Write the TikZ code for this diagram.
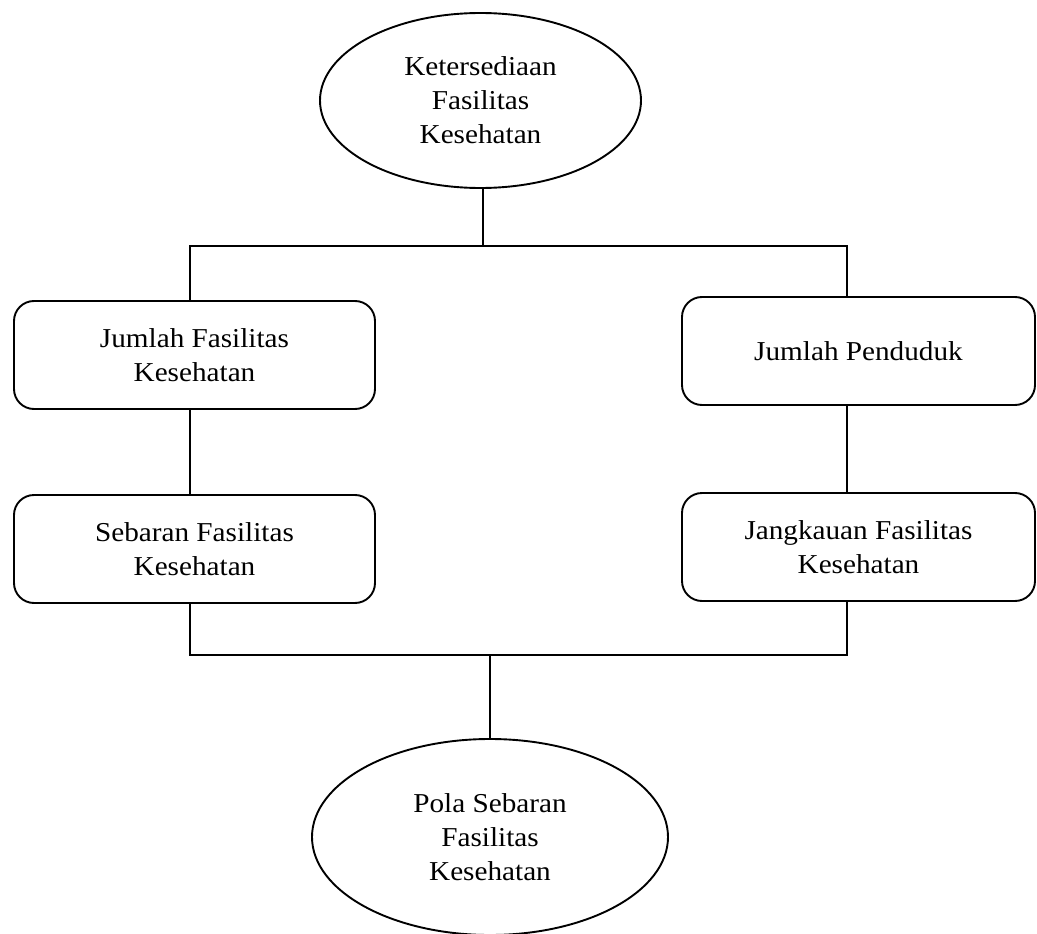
\documentclass[tikz,border=0pt]{standalone}
\usepackage{fontspec}
\setmainfont{Liberation Serif}[FakeStretch=1.07]
\usetikzlibrary{shapes.geometric}
\begin{document}
\begin{tikzpicture}[x=1pt,y=-1pt,line width=1.9pt,
  every node/.style={font=\fontsize{27.3}{34}\selectfont, align=center},
  oval/.style={draw, ellipse, inner sep=0pt},
  rbox/.style={draw, rounded corners=20pt, inner sep=0pt}]
\useasboundingbox (0,0) rectangle (1037,934);
\node[oval, minimum width=321pt, minimum height=175pt] (top) at (480.5,100.5) {Ketersediaan\\Fasilitas\\Kesehatan};
\node[rbox, minimum width=361pt, minimum height=108pt] (jf) at (194.5,355) {Jumlah Fasilitas\\Kesehatan};
\node[rbox, minimum width=353pt, minimum height=108pt] (jp) at (858.5,351) {Jumlah Penduduk};
\node[rbox, minimum width=361pt, minimum height=108pt] (sf) at (194.5,549) {Sebaran Fasilitas\\Kesehatan};
\node[rbox, minimum width=353pt, minimum height=108pt] (jk) at (858.5,547) {Jangkauan Fasilitas\\Kesehatan};
\node[oval, minimum width=356pt, minimum height=196pt] (bot) at (490,837) {Pola Sebaran\\Fasilitas\\Kesehatan};
\coordinate (t1) at (483,246);
\coordinate (tl) at (190,246);
\coordinate (tr) at (847,246);
\coordinate (bl) at (190,655);
\coordinate (br) at (847,655);
\coordinate (b1) at (490,655);
\draw (t1 |- top.south) -- (t1);
\draw (jf.north -| tl) -- (tl) -- (tr) -- (jp.north -| tr);
\draw (jf.south -| tl) -- (sf.north -| tl);
\draw (jp.south -| tr) -- (jk.north -| tr);
\draw (sf.south -| bl) -- (bl) -- (br) -- (jk.south -| br);
\draw (b1) -- (bot.north);
\end{tikzpicture}
\end{document}
